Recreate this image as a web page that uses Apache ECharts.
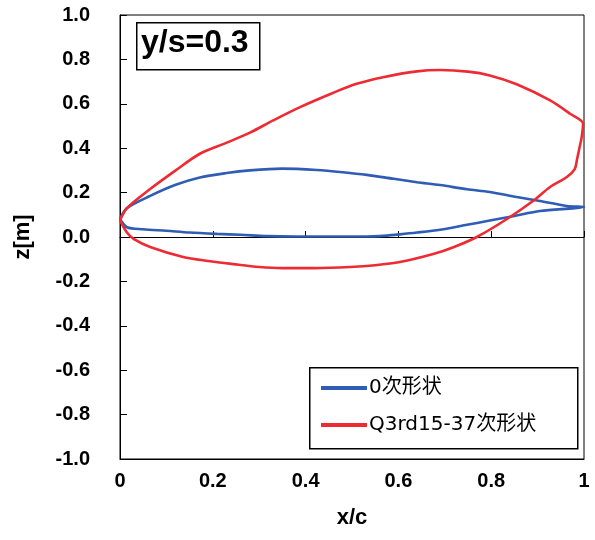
<!DOCTYPE html>
<html>
<head>
<meta charset="utf-8">
<script src="https://cdn.jsdelivr.net/npm/echarts@6/dist/echarts.min.js"></script>
<style>
  html, body { margin: 0; padding: 0; background: #fff; }
  #chart { width: 595px; height: 540px; }
</style>
</head>
<body>
<div id="chart"></div>
<script>
// Section outline at y/s = 0.3: baseline (0次) and optimised (Q3rd15-37次) shapes.
// Each outline is a closed loop: leading edge -> upper surface -> trailing edge -> lower surface -> leading edge.
const seriesNames = ['0次形状', 'Q3rd15-37次形状'];

const baseX = [0, 0.015, 0.065, 0.12, 0.172, 0.23, 0.28, 0.349, 0.424, 0.48, 0.532, 0.59, 0.64, 0.69, 0.748, 0.797, 0.855, 0.905, 0.963, 1.0,
               0.98, 0.905, 0.85, 0.797, 0.748, 0.69, 0.64, 0.603, 0.56, 0.532, 0.45, 0.38, 0.316, 0.26, 0.209, 0.15, 0.1, 0.05, 0.015, 0];
const baseZ = [0.081, 0.13, 0.185, 0.235, 0.268, 0.288, 0.30, 0.308, 0.302, 0.292, 0.28, 0.262, 0.247, 0.234, 0.215, 0.203, 0.18, 0.162, 0.14, 0.135,
               0.13, 0.117, 0.095, 0.074, 0.055, 0.033, 0.02, 0.012, 0.004, 0.002, 0.002, 0.002, 0.004, 0.01, 0.014, 0.02, 0.028, 0.035, 0.044, 0.081];

const optX = [0, 0.015, 0.065, 0.12, 0.172, 0.23, 0.28, 0.33, 0.388, 0.46, 0.51, 0.567, 0.64, 0.69, 0.75, 0.797, 0.855, 0.927, 0.97, 0.998,
              0.995, 0.99, 0.985, 0.98, 0.963, 0.927, 0.89, 0.834, 0.769, 0.72, 0.675, 0.603, 0.55, 0.496, 0.42, 0.351, 0.3, 0.244, 0.19, 0.136, 0.065, 0.03, 0.015, 0];
const optZ = [0.075, 0.13, 0.216, 0.30, 0.375, 0.425, 0.47, 0.525, 0.585, 0.65, 0.69, 0.72, 0.746, 0.752, 0.745, 0.728, 0.688, 0.615, 0.555, 0.51,
              0.45, 0.4, 0.35, 0.306, 0.27, 0.225, 0.162, 0.081, 0.0, -0.045, -0.077, -0.113, -0.127, -0.135, -0.14, -0.14, -0.135, -0.122, -0.108, -0.09, -0.045, -0.01, 0.02, 0.075];

const xTicks = [0, 0.2, 0.4, 0.6, 0.8, 1];
const yTicks = [-1.0, -0.8, -0.6, -0.4, -0.2, 0.0, 0.2, 0.4, 0.6, 0.8, 1.0];

const colors = ['#2F5DB3', '#EE2B33'];

function pairs(xs, zs) {
  return xs.map((x, i) => [x, zs[i]]);
}

const chart = echarts.init(document.getElementById('chart'), null, { renderer: 'canvas' });

const labelFont = { fontFamily: 'Liberation Sans, Arial, sans-serif', fontWeight: 'bold', fontSize: 20, color: '#000' };

chart.setOption({
  animation: false,
  backgroundColor: '#fff',
  grid: {
    left: 120, right: 11, top: 15, bottom: 81,
    show: true, borderColor: '#000', borderWidth: 1, backgroundColor: 'transparent'
  },
  xAxis: [
    {
      type: 'value', position: 'bottom',
      min: xTicks[0], max: xTicks[xTicks.length - 1], interval: 0.2,
      axisLine: { onZero: false, lineStyle: { color: '#000', width: 1 } },
      axisTick: { show: false },
      splitLine: { show: false },
      axisLabel: Object.assign({ margin: 12, formatter: v => (v === 0 || v === 1) ? String(v) : v.toFixed(1) }, labelFont),
      name: 'x/c', nameLocation: 'middle', nameGap: 48,
      nameTextStyle: { fontFamily: 'Liberation Sans, Arial, sans-serif', fontWeight: 'bold', fontSize: 22, color: '#000' }
    },
    {
      // zero line with upward ticks
      type: 'value', position: 'bottom',
      min: xTicks[0], max: xTicks[xTicks.length - 1], interval: 0.2,
      axisLine: { onZero: true, lineStyle: { color: '#000', width: 1 } },
      axisTick: { show: true, inside: true, length: 6, lineStyle: { color: '#000' } },
      axisLabel: { show: false },
      splitLine: { show: false }
    }
  ],
  yAxis: {
    type: 'value',
    min: yTicks[0], max: yTicks[yTicks.length - 1], interval: 0.2,
    axisLine: { show: true, lineStyle: { color: '#000', width: 1 } },
    axisTick: { show: true, inside: true, length: 7, lineStyle: { color: '#000' } },
    splitLine: { show: false },
    axisLabel: Object.assign({ margin: 30, formatter: v => v.toFixed(1) }, labelFont),
    name: 'z[m]', nameLocation: 'middle', nameGap: 86, nameRotate: 90,
    nameTextStyle: { fontFamily: 'Liberation Sans, Arial, sans-serif', fontWeight: 'bold', fontSize: 22, color: '#000' }
  },
  legend: {
    orient: 'vertical',
    left: 316, top: 373,
    itemWidth: 46, itemHeight: 4, itemGap: 17,
    icon: 'rect',
    data: seriesNames,
    textStyle: { fontFamily: 'DejaVu Sans, Noto Sans CJK JP, sans-serif', fontSize: 20, color: '#000', padding: [0, 0, 0, -3] }
  },
  graphic: [
    {
      type: 'rect', left: 309, top: 367, z: 0,
      shape: { width: 268, height: 81 },
      style: { fill: '#fff', stroke: '#000', lineWidth: 1.5 }
    },
    {
      type: 'rect', left: 136, top: 22, z: 10,
      shape: { width: 123, height: 47 },
      style: { fill: '#fff', stroke: '#000', lineWidth: 1.5 }
    },
    {
      type: 'text', left: 141, top: 27, z: 11,
      style: { text: 'y/s=0.3', font: 'bold 32px "Liberation Sans", Arial, sans-serif', fill: '#000' }
    }
  ],
  series: [
    {
      name: seriesNames[0], type: 'line', xAxisIndex: 0,
      data: pairs(baseX, baseZ),
      showSymbol: false, smooth: 0.3,
      lineStyle: { color: colors[0], width: 2.6 },
      itemStyle: { color: colors[0] }
    },
    {
      name: seriesNames[1], type: 'line', xAxisIndex: 0,
      data: pairs(optX, optZ),
      showSymbol: false, smooth: 0.3,
      lineStyle: { color: colors[1], width: 2.6 },
      itemStyle: { color: colors[1] }
    }
  ]
});
</script>
</body>
</html>
